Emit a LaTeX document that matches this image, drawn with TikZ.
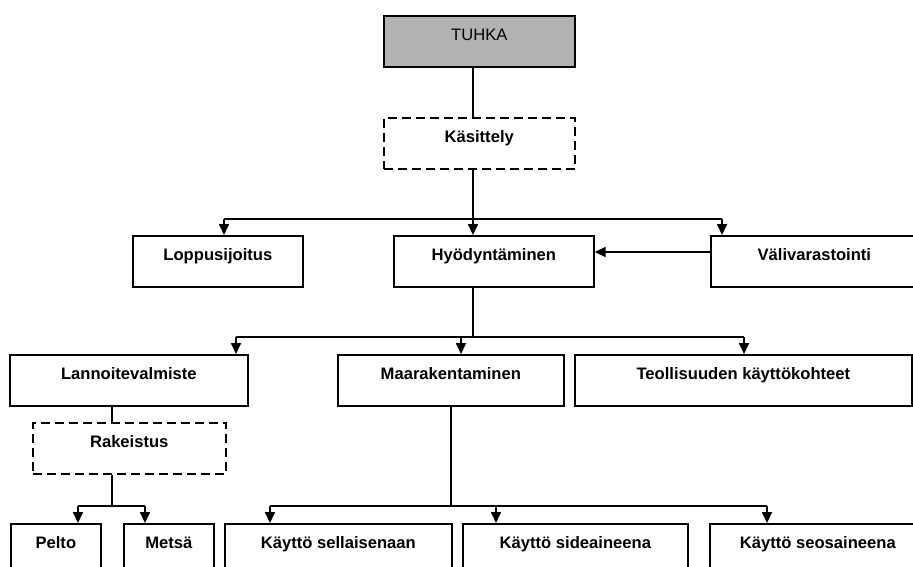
\documentclass[tikz,border=0pt]{standalone}
\usepackage{fontspec}
\setmainfont{Liberation Sans}
\usetikzlibrary{arrows.meta}
\definecolor{boxgray}{HTML}{B2B2B2}
\begin{document}
\begin{tikzpicture}[x=1pt,y=-1pt,
  box/.style={draw=black, fill=white, line width=1.7pt, inner sep=0pt, anchor=north west,
    text height=25pt, text depth=26pt, minimum height=0pt,
    font=\fontsize{16.6}{20}\selectfont\bfseries},
  dbox/.style={box, line width=1.5pt, dash pattern=on 9pt off 5pt},
  lowbox/.style={box, text depth=32pt},
  conn/.style={line width=1.7pt, draw=black},
  arr/.style={conn, -{Triangle[length=11pt,width=10pt]}}]
\useasboundingbox (0,0) rectangle (913,566);
\clip (0,0) rectangle (913,566);

% boxes
\node[box, fill=boxgray, minimum width=191pt, font=\fontsize{16.6}{20}\selectfont] (tuhka) at (383,15) {TUHKA};
\node[dbox, minimum width=191pt] (kas) at (383,117) {Käsittely};
\node[box, minimum width=170pt] (lop) at (132,235) {Loppusijoitus};
\node[box, minimum width=200pt] (hyo) at (393,235) {Hyödyntäminen};
\node[box, minimum width=207pt] (val) at (710,235) {Välivarastointi};
\node[box, minimum width=238pt] (lan) at (9,354) {Lannoitevalmiste};
\node[box, minimum width=226pt] (maa) at (337,354) {Maarakentaminen};
\node[box, minimum width=337pt] (teo) at (574,354) {Teollisuuden käyttökohteet};
\node[dbox, minimum width=193pt] (rak) at (32,422) {Rakeistus};
\node[lowbox, minimum width=90pt] (pel) at (10,523) {Pelto};
\node[lowbox, minimum width=90pt] (met) at (123,523) {Metsä};
\node[lowbox, minimum width=227pt] (sel) at (224,523) {Käyttö sellaisenaan};
\node[lowbox, minimum width=225pt] (sid) at (462,523) {Käyttö sideaineena};
\node[lowbox, minimum width=216pt] (seo) at (709,523) {Käyttö seosaineena};

% reference coordinates
\coordinate (c1) at (473,219);
\coordinate (t1) at (224,219);
\coordinate (t2) at (722,219);
\coordinate (ya) at (0,252);
\coordinate (m0) at (473,337);
\coordinate (m1) at (236,337);
\coordinate (m3) at (461,337);
\coordinate (m2) at (744,337);
\coordinate (r0) at (112,506);
\coordinate (r1) at (78,506);
\coordinate (r2) at (145,506);
\coordinate (s0) at (451,506);
\coordinate (s1) at (270,506);
\coordinate (s2) at (496,506);
\coordinate (s3) at (767,506);

% connectors
\draw[conn] (tuhka.south -| c1) -- (kas.north -| c1);
\draw[arr] (kas.south -| c1) -- (hyo.north -| c1);
\draw[conn] (t1) -- (t2);
\draw[arr] (t1) -- (t1 |- lop.north);
\draw[arr] (t2) -- (t2 |- val.north);
\draw[arr] (val.west |- ya) -- (hyo.east |- ya);

\draw[conn] (hyo.south -| m0) -- (m0);
\draw[conn] (m1) -- (m2);
\draw[arr] (m1) -- (m1 |- lan.north);
\draw[arr] (m3) -- (m3 |- maa.north);
\draw[arr] (m2) -- (m2 |- teo.north);

\draw[conn] (lan.south -| r0) -- (rak.north -| r0);
\draw[conn] (rak.south -| r0) -- (r0);
\draw[conn] (r1) -- (r2);
\draw[arr] (r1) -- (r1 |- pel.north);
\draw[arr] (r2) -- (r2 |- met.north);

\draw[conn] (maa.south -| s0) -- (s0);
\draw[conn] (s1) -- (s3);
\draw[arr] (s1) -- (s1 |- sel.north);
\draw[arr] (s2) -- (s2 |- sid.north);
\draw[arr] (s3) -- (s3 |- seo.north);
\end{tikzpicture}
\end{document}
